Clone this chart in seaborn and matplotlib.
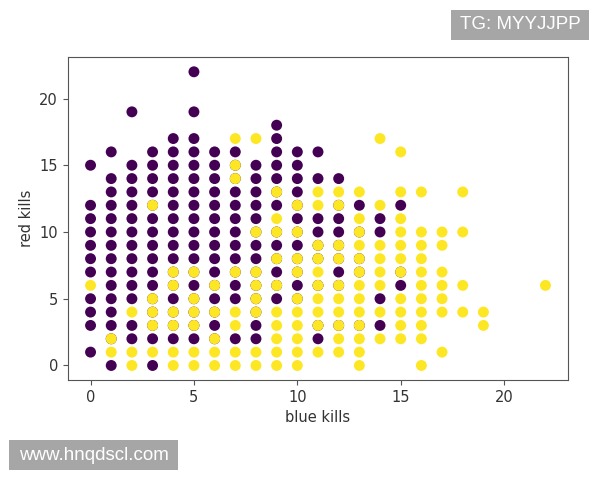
import pandas as pd
import seaborn as sns
import matplotlib.pyplot as plt
from matplotlib.patches import Rectangle

# blue kills (x) -> red kills (y) of games lost (purple) and won (yellow)
blue_kills = list(range(23))
lost_red_kills = [
    [1, 3, 4, 5, 7, 8, 9, 10, 11, 12, 15],
    [0, 2, 3, 4, 5, 6, 7, 8, 9, 10, 11, 12, 13, 14, 16],
    [2, 3, 5, 6, 7, 8, 9, 10, 11, 12, 13, 14, 15, 19],
    [0, 2, 3, 4, 5, 6, 7, 8, 9, 10, 11, 12, 13, 14, 15, 16],
    [2, 3, 4, 5, 6, 7, 8, 9, 10, 11, 12, 13, 14, 15, 16, 17],
    [2, 3, 4, 5, 6, 7, 8, 9, 10, 11, 12, 13, 14, 15, 16, 17, 19, 22],
    [2, 3, 4, 5, 6, 7, 8, 9, 10, 11, 12, 13, 14, 15, 16],
    [2, 5, 6, 7, 8, 9, 10, 11, 12, 13, 14, 15, 16],
    [2, 3, 4, 5, 6, 7, 8, 9, 10, 11, 12, 13, 14, 15],
    [5, 6, 7, 8, 9, 10, 12, 13, 14, 15, 16, 17, 18],
    [5, 6, 7, 8, 9, 10, 11, 12, 13, 14, 15, 16],
    [2, 3, 6, 8, 9, 10, 11, 14, 16],
    [3, 6, 7, 8, 9, 10, 11, 12, 14],
    [3, 7, 8, 10, 12],
    [3, 5, 10, 11],
    [6, 7, 12],
    [], [], [], [], [], [], [],
]
won_red_kills = [
    [6],
    [1, 2],
    [0, 1, 4],
    [1, 3, 4, 5, 12],
    [0, 1, 3, 4, 6, 7],
    [0, 1, 3, 4, 5, 7],
    [0, 1, 2, 4, 6],
    [0, 1, 3, 4, 7, 14, 15, 17],
    [0, 1, 4, 5, 6, 7, 10, 17],
    [0, 1, 2, 3, 4, 6, 8, 10, 11, 13],
    [0, 1, 2, 3, 4, 5, 7, 8, 10, 12],
    [1, 3, 4, 5, 6, 7, 8, 9, 12, 13],
    [1, 2, 3, 4, 5, 6, 8, 9, 12, 13],
    [0, 1, 2, 3, 4, 5, 6, 7, 8, 9, 10, 11, 13],
    [2, 4, 6, 7, 8, 9, 12, 17],
    [2, 3, 4, 5, 7, 8, 9, 10, 11, 13, 16],
    [0, 2, 3, 4, 5, 6, 7, 8, 9, 10, 13],
    [1, 4, 5, 6, 7, 9, 10],
    [4, 6, 10, 13],
    [3, 4],
    [], [],
    [6],
]

rows = []
for win, cols in [(0, lost_red_kills), (1, won_red_kills)]:
    for bk, reds in zip(blue_kills, cols):
        for rk in reds:
            rows.append((bk, rk, win))
df = pd.DataFrame(rows, columns=['blueKills', 'redKills', 'win'])

fig = plt.figure(figsize=(6, 4.8), dpi=100)
ax = fig.add_axes([0.113, 0.208, 0.834, 0.673])
sns.scatterplot(data=df, x='blueKills', y='redKills', hue='win',
                palette={0: '#440154', 1: '#fde725'}, s=62,
                linewidth=0, legend=False, ax=ax)
ax.set_xlabel('blue kills', fontsize=10.5, color='#333333')
ax.set_ylabel('red kills', fontsize=10.5, color='#333333')
ax.set_xticks([0, 5, 10, 15, 20])
ax.set_yticks([0, 5, 10, 15, 20])
ax.tick_params(labelsize=10.5, labelcolor='#333333', color='#555555')
for sp in ax.spines.values():
    sp.set_color('#555555')

# watermarks
for x0, y0, w, label in [(0.7517, 0.9167, 0.23, 'TG: MYYJJPP'),
                         (0.015, 0.0208, 0.2817, 'www.hnqdscl.com')]:
    fig.patches.append(Rectangle((x0, y0), w, 0.0625, transform=fig.transFigure,
                                 facecolor='#a6a6a6', edgecolor='none'))
    fig.text(x0 + w / 2, y0 + 0.0625 / 2, label, fontsize=13.5, color='white',
             family='Liberation Sans', ha='center', va='center')

plt.savefig('out.png')
